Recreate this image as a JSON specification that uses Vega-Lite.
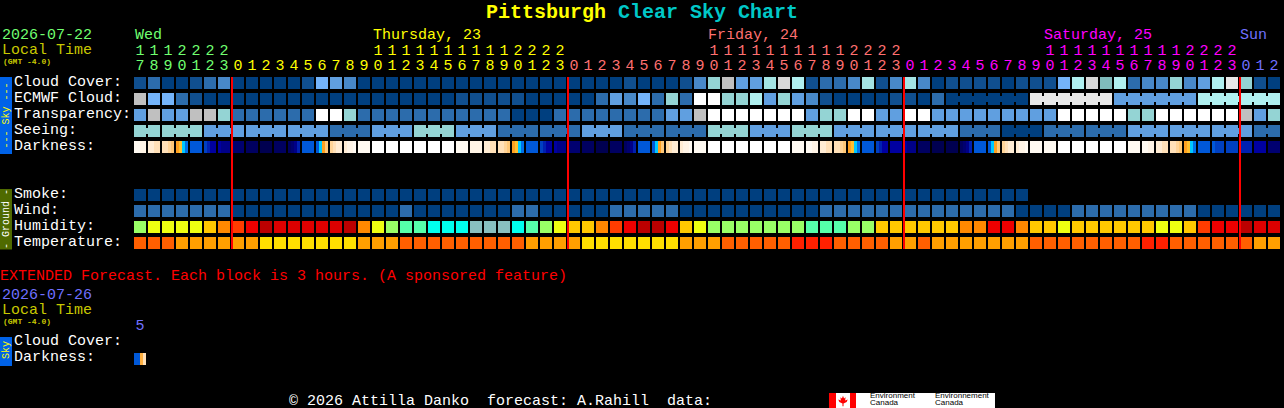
{"$schema":"https://vega.github.io/schema/vega-lite/v6.json","width":1284,"height":408,"padding":0,"autosize":{"type":"fit","contains":"padding"},"background":"#000000","view":{"stroke":null},
"datasets":{
"sky":[
{"r":0,"c":0,"v":1},{"r":0,"c":1,"v":2},{"r":0,"c":2,"v":0},{"r":0,"c":3,"v":0},{"r":0,"c":4,"v":1},{"r":0,"c":5,"v":2},{"r":0,"c":6,"v":3},{"r":0,"c":7,"v":0},{"r":0,"c":8,"v":0},{"r":0,"c":9,"v":0},{"r":0,"c":10,"v":0},{"r":0,"c":11,"v":0},{"r":0,"c":12,"v":1},{"r":0,"c":13,"v":5},{"r":0,"c":14,"v":4},{"r":0,"c":15,"v":3},{"r":0,"c":16,"v":0},{"r":0,"c":17,"v":0},{"r":0,"c":18,"v":0},{"r":0,"c":19,"v":0},{"r":0,"c":20,"v":0},{"r":0,"c":21,"v":0},{"r":0,"c":22,"v":0},{"r":0,"c":23,"v":0},{"r":0,"c":24,"v":0},{"r":0,"c":25,"v":0},{"r":0,"c":26,"v":0},{"r":0,"c":27,"v":0},{"r":0,"c":28,"v":0},{"r":0,"c":29,"v":0},{"r":0,"c":30,"v":0},{"r":0,"c":31,"v":0},{"r":0,"c":32,"v":0},{"r":0,"c":33,"v":0},{"r":0,"c":34,"v":0},{"r":0,"c":35,"v":1},{"r":0,"c":36,"v":0},{"r":0,"c":37,"v":0},{"r":0,"c":38,"v":0},{"r":0,"c":39,"v":1},{"r":0,"c":40,"v":3},{"r":0,"c":41,"v":6},{"r":0,"c":42,"v":11},{"r":0,"c":43,"v":4},{"r":0,"c":44,"v":4},{"r":0,"c":45,"v":7},{"r":0,"c":46,"v":9},{"r":0,"c":47,"v":8},{"r":0,"c":48,"v":1},{"r":0,"c":49,"v":2},{"r":0,"c":50,"v":2},{"r":0,"c":51,"v":3},{"r":0,"c":52,"v":7},{"r":0,"c":53,"v":1},{"r":0,"c":54,"v":3},{"r":0,"c":55,"v":7},{"r":0,"c":56,"v":3},{"r":0,"c":57,"v":0},{"r":0,"c":58,"v":1},{"r":0,"c":59,"v":1},{"r":0,"c":60,"v":1},{"r":0,"c":61,"v":1},{"r":0,"c":62,"v":0},{"r":0,"c":63,"v":1},{"r":0,"c":64,"v":1},{"r":0,"c":65,"v":1},{"r":0,"c":66,"v":5},{"r":0,"c":67,"v":8},{"r":0,"c":68,"v":9},{"r":0,"c":69,"v":13},{"r":0,"c":70,"v":8},{"r":0,"c":71,"v":2},{"r":0,"c":72,"v":3},{"r":0,"c":73,"v":3},{"r":0,"c":74,"v":6},{"r":0,"c":75,"v":3},{"r":0,"c":76,"v":4},{"r":0,"c":77,"v":8},{"r":0,"c":78,"v":10},{"r":0,"c":79,"v":6},{"r":0,"c":80,"v":1},{"r":0,"c":81,"v":0},
{"r":1,"c":0,"v":11},{"r":1,"c":1,"v":5},{"r":1,"c":2,"v":5},{"r":1,"c":3,"v":2},{"r":1,"c":4,"v":1},{"r":1,"c":5,"v":0},{"r":1,"c":6,"v":0},{"r":1,"c":7,"v":0},{"r":1,"c":8,"v":0},{"r":1,"c":9,"v":0},{"r":1,"c":10,"v":0},{"r":1,"c":11,"v":0},{"r":1,"c":12,"v":0},{"r":1,"c":13,"v":0},{"r":1,"c":14,"v":0},{"r":1,"c":15,"v":0},{"r":1,"c":16,"v":0},{"r":1,"c":17,"v":0},{"r":1,"c":18,"v":0},{"r":1,"c":19,"v":0},{"r":1,"c":20,"v":0},{"r":1,"c":21,"v":0},{"r":1,"c":22,"v":0},{"r":1,"c":23,"v":1},{"r":1,"c":24,"v":1},{"r":1,"c":25,"v":1},{"r":1,"c":26,"v":1},{"r":1,"c":27,"v":1},{"r":1,"c":28,"v":0},{"r":1,"c":29,"v":0},{"r":1,"c":30,"v":0},{"r":1,"c":31,"v":0},{"r":1,"c":32,"v":0},{"r":1,"c":33,"v":2},{"r":1,"c":34,"v":4},{"r":1,"c":35,"v":3},{"r":1,"c":36,"v":5},{"r":1,"c":37,"v":2},{"r":1,"c":38,"v":6},{"r":1,"c":39,"v":2},{"r":1,"c":40,"v":12},{"r":1,"c":41,"v":12},{"r":1,"c":42,"v":6},{"r":1,"c":43,"v":6},{"r":1,"c":44,"v":8},{"r":1,"c":45,"v":4},{"r":1,"c":46,"v":6},{"r":1,"c":47,"v":4},{"r":1,"c":48,"v":3},{"r":1,"c":49,"v":1},{"r":1,"c":50,"v":0},{"r":1,"c":51,"v":0},{"r":1,"c":52,"v":0},{"r":1,"c":53,"v":0},{"r":1,"c":54,"v":1},{"r":1,"c":55,"v":1},{"r":1,"c":56,"v":0},{"r":1,"c":57,"v":2},{"r":1,"c":58,"v":0},{"r":1,"c":59,"v":0},{"r":1,"c":60,"v":0},{"r":1,"c":61,"v":0},{"r":1,"c":62,"v":0},{"r":1,"c":63,"v":0},{"r":1,"c":64,"v":10},{"r":1,"c":65,"v":10},{"r":1,"c":66,"v":10},{"r":1,"c":67,"v":10},{"r":1,"c":68,"v":10},{"r":1,"c":69,"v":10},{"r":1,"c":70,"v":4},{"r":1,"c":71,"v":4},{"r":1,"c":72,"v":4},{"r":1,"c":73,"v":4},{"r":1,"c":74,"v":4},{"r":1,"c":75,"v":4},{"r":1,"c":76,"v":8},{"r":1,"c":77,"v":8},{"r":1,"c":78,"v":8},{"r":1,"c":79,"v":8},{"r":1,"c":80,"v":8},{"r":1,"c":81,"v":8},
{"r":2,"c":0,"v":4},{"r":2,"c":1,"v":11},{"r":2,"c":2,"v":4},{"r":2,"c":3,"v":4},{"r":2,"c":4,"v":11},{"r":2,"c":5,"v":11},{"r":2,"c":6,"v":6},{"r":2,"c":7,"v":2},{"r":2,"c":8,"v":2},{"r":2,"c":9,"v":2},{"r":2,"c":10,"v":2},{"r":2,"c":11,"v":2},{"r":2,"c":12,"v":2},{"r":2,"c":13,"v":12},{"r":2,"c":14,"v":12},{"r":2,"c":15,"v":6},{"r":2,"c":16,"v":2},{"r":2,"c":17,"v":2},{"r":2,"c":18,"v":2},{"r":2,"c":19,"v":2},{"r":2,"c":20,"v":2},{"r":2,"c":21,"v":2},{"r":2,"c":22,"v":2},{"r":2,"c":23,"v":2},{"r":2,"c":24,"v":2},{"r":2,"c":25,"v":2},{"r":2,"c":26,"v":2},{"r":2,"c":27,"v":0},{"r":2,"c":28,"v":0},{"r":2,"c":29,"v":0},{"r":2,"c":30,"v":2},{"r":2,"c":31,"v":2},{"r":2,"c":32,"v":2},{"r":2,"c":33,"v":2},{"r":2,"c":34,"v":2},{"r":2,"c":35,"v":2},{"r":2,"c":36,"v":2},{"r":2,"c":37,"v":2},{"r":2,"c":38,"v":4},{"r":2,"c":39,"v":4},{"r":2,"c":40,"v":11},{"r":2,"c":41,"v":12},{"r":2,"c":42,"v":12},{"r":2,"c":43,"v":12},{"r":2,"c":44,"v":12},{"r":2,"c":45,"v":12},{"r":2,"c":46,"v":12},{"r":2,"c":47,"v":12},{"r":2,"c":48,"v":4},{"r":2,"c":49,"v":6},{"r":2,"c":50,"v":6},{"r":2,"c":51,"v":12},{"r":2,"c":52,"v":12},{"r":2,"c":53,"v":4},{"r":2,"c":54,"v":4},{"r":2,"c":55,"v":12},{"r":2,"c":56,"v":12},{"r":2,"c":57,"v":4},{"r":2,"c":58,"v":4},{"r":2,"c":59,"v":4},{"r":2,"c":60,"v":4},{"r":2,"c":61,"v":4},{"r":2,"c":62,"v":4},{"r":2,"c":63,"v":4},{"r":2,"c":64,"v":4},{"r":2,"c":65,"v":4},{"r":2,"c":66,"v":12},{"r":2,"c":67,"v":12},{"r":2,"c":68,"v":12},{"r":2,"c":69,"v":12},{"r":2,"c":70,"v":12},{"r":2,"c":71,"v":6},{"r":2,"c":72,"v":6},{"r":2,"c":73,"v":12},{"r":2,"c":74,"v":12},{"r":2,"c":75,"v":12},{"r":2,"c":76,"v":12},{"r":2,"c":77,"v":12},{"r":2,"c":78,"v":12},{"r":2,"c":79,"v":11},{"r":2,"c":80,"v":4},{"r":2,"c":81,"v":6},
{"r":3,"c":0,"v":6},{"r":3,"c":1,"v":6},{"r":3,"c":2,"v":6},{"r":3,"c":3,"v":6},{"r":3,"c":4,"v":6},{"r":3,"c":5,"v":4},{"r":3,"c":6,"v":4},{"r":3,"c":7,"v":4},{"r":3,"c":8,"v":4},{"r":3,"c":9,"v":4},{"r":3,"c":10,"v":4},{"r":3,"c":11,"v":4},{"r":3,"c":12,"v":4},{"r":3,"c":13,"v":4},{"r":3,"c":14,"v":2},{"r":3,"c":15,"v":2},{"r":3,"c":16,"v":2},{"r":3,"c":17,"v":4},{"r":3,"c":18,"v":4},{"r":3,"c":19,"v":4},{"r":3,"c":20,"v":6},{"r":3,"c":21,"v":6},{"r":3,"c":22,"v":6},{"r":3,"c":23,"v":4},{"r":3,"c":24,"v":4},{"r":3,"c":25,"v":4},{"r":3,"c":26,"v":2},{"r":3,"c":27,"v":2},{"r":3,"c":28,"v":2},{"r":3,"c":29,"v":2},{"r":3,"c":30,"v":2},{"r":3,"c":31,"v":2},{"r":3,"c":32,"v":4},{"r":3,"c":33,"v":4},{"r":3,"c":34,"v":4},{"r":3,"c":35,"v":2},{"r":3,"c":36,"v":2},{"r":3,"c":37,"v":2},{"r":3,"c":38,"v":2},{"r":3,"c":39,"v":2},{"r":3,"c":40,"v":2},{"r":3,"c":41,"v":6},{"r":3,"c":42,"v":6},{"r":3,"c":43,"v":6},{"r":3,"c":44,"v":4},{"r":3,"c":45,"v":4},{"r":3,"c":46,"v":4},{"r":3,"c":47,"v":6},{"r":3,"c":48,"v":6},{"r":3,"c":49,"v":6},{"r":3,"c":50,"v":4},{"r":3,"c":51,"v":4},{"r":3,"c":52,"v":4},{"r":3,"c":53,"v":4},{"r":3,"c":54,"v":4},{"r":3,"c":55,"v":4},{"r":3,"c":56,"v":4},{"r":3,"c":57,"v":4},{"r":3,"c":58,"v":4},{"r":3,"c":59,"v":2},{"r":3,"c":60,"v":2},{"r":3,"c":61,"v":2},{"r":3,"c":62,"v":0},{"r":3,"c":63,"v":0},{"r":3,"c":64,"v":0},{"r":3,"c":65,"v":2},{"r":3,"c":66,"v":2},{"r":3,"c":67,"v":2},{"r":3,"c":68,"v":2},{"r":3,"c":69,"v":2},{"r":3,"c":70,"v":2},{"r":3,"c":71,"v":4},{"r":3,"c":72,"v":4},{"r":3,"c":73,"v":4},{"r":3,"c":74,"v":4},{"r":3,"c":75,"v":4},{"r":3,"c":76,"v":4},{"r":3,"c":77,"v":4},{"r":3,"c":78,"v":4},{"r":3,"c":79,"v":4},{"r":3,"c":80,"v":2},{"r":3,"c":81,"v":2},
{"r":7,"c":0,"v":0},{"r":7,"c":1,"v":0},{"r":7,"c":2,"v":0},{"r":7,"c":3,"v":0},{"r":7,"c":4,"v":0},{"r":7,"c":5,"v":0},{"r":7,"c":6,"v":0},{"r":7,"c":7,"v":0},{"r":7,"c":8,"v":0},{"r":7,"c":9,"v":0},{"r":7,"c":10,"v":0},{"r":7,"c":11,"v":0},{"r":7,"c":12,"v":0},{"r":7,"c":13,"v":0},{"r":7,"c":14,"v":0},{"r":7,"c":15,"v":0},{"r":7,"c":16,"v":0},{"r":7,"c":17,"v":0},{"r":7,"c":18,"v":0},{"r":7,"c":19,"v":0},{"r":7,"c":20,"v":0},{"r":7,"c":21,"v":0},{"r":7,"c":22,"v":0},{"r":7,"c":23,"v":0},{"r":7,"c":24,"v":0},{"r":7,"c":25,"v":0},{"r":7,"c":26,"v":0},{"r":7,"c":27,"v":0},{"r":7,"c":28,"v":0},{"r":7,"c":29,"v":0},{"r":7,"c":30,"v":0},{"r":7,"c":31,"v":0},{"r":7,"c":32,"v":0},{"r":7,"c":33,"v":0},{"r":7,"c":34,"v":0},{"r":7,"c":35,"v":0},{"r":7,"c":36,"v":0},{"r":7,"c":37,"v":0},{"r":7,"c":38,"v":0},{"r":7,"c":39,"v":0},{"r":7,"c":40,"v":0},{"r":7,"c":41,"v":0},{"r":7,"c":42,"v":0},{"r":7,"c":43,"v":0},{"r":7,"c":44,"v":0},{"r":7,"c":45,"v":0},{"r":7,"c":46,"v":0},{"r":7,"c":47,"v":0},{"r":7,"c":48,"v":0},{"r":7,"c":49,"v":0},{"r":7,"c":50,"v":0},{"r":7,"c":51,"v":0},{"r":7,"c":52,"v":0},{"r":7,"c":53,"v":0},{"r":7,"c":54,"v":0},{"r":7,"c":55,"v":0},{"r":7,"c":56,"v":0},{"r":7,"c":57,"v":0},{"r":7,"c":58,"v":0},{"r":7,"c":59,"v":0},{"r":7,"c":60,"v":0},{"r":7,"c":61,"v":0},{"r":7,"c":62,"v":0},{"r":7,"c":63,"v":0},
{"r":8,"c":0,"v":2},{"r":8,"c":1,"v":2},{"r":8,"c":2,"v":2},{"r":8,"c":3,"v":2},{"r":8,"c":4,"v":2},{"r":8,"c":5,"v":2},{"r":8,"c":6,"v":2},{"r":8,"c":7,"v":0},{"r":8,"c":8,"v":0},{"r":8,"c":9,"v":0},{"r":8,"c":10,"v":0},{"r":8,"c":11,"v":0},{"r":8,"c":12,"v":0},{"r":8,"c":13,"v":0},{"r":8,"c":14,"v":0},{"r":8,"c":15,"v":0},{"r":8,"c":16,"v":0},{"r":8,"c":17,"v":0},{"r":8,"c":18,"v":0},{"r":8,"c":19,"v":2},{"r":8,"c":20,"v":0},{"r":8,"c":21,"v":0},{"r":8,"c":22,"v":0},{"r":8,"c":23,"v":0},{"r":8,"c":24,"v":0},{"r":8,"c":25,"v":0},{"r":8,"c":26,"v":0},{"r":8,"c":27,"v":2},{"r":8,"c":28,"v":2},{"r":8,"c":29,"v":0},{"r":8,"c":30,"v":0},{"r":8,"c":31,"v":0},{"r":8,"c":32,"v":0},{"r":8,"c":33,"v":0},{"r":8,"c":34,"v":2},{"r":8,"c":35,"v":2},{"r":8,"c":36,"v":2},{"r":8,"c":37,"v":2},{"r":8,"c":38,"v":2},{"r":8,"c":39,"v":0},{"r":8,"c":40,"v":0},{"r":8,"c":41,"v":0},{"r":8,"c":42,"v":0},{"r":8,"c":43,"v":0},{"r":8,"c":44,"v":0},{"r":8,"c":45,"v":0},{"r":8,"c":46,"v":0},{"r":8,"c":47,"v":0},{"r":8,"c":48,"v":0},{"r":8,"c":49,"v":2},{"r":8,"c":50,"v":2},{"r":8,"c":51,"v":2},{"r":8,"c":52,"v":2},{"r":8,"c":53,"v":2},{"r":8,"c":54,"v":2},{"r":8,"c":55,"v":2},{"r":8,"c":56,"v":2},{"r":8,"c":57,"v":2},{"r":8,"c":58,"v":2},{"r":8,"c":59,"v":2},{"r":8,"c":60,"v":2},{"r":8,"c":61,"v":2},{"r":8,"c":62,"v":2},{"r":8,"c":63,"v":0},{"r":8,"c":64,"v":0},{"r":8,"c":65,"v":0},{"r":8,"c":66,"v":0},{"r":8,"c":67,"v":2},{"r":8,"c":68,"v":2},{"r":8,"c":69,"v":2},{"r":8,"c":70,"v":2},{"r":8,"c":71,"v":2},{"r":8,"c":72,"v":2},{"r":8,"c":73,"v":2},{"r":8,"c":74,"v":2},{"r":8,"c":75,"v":2},{"r":8,"c":76,"v":0},{"r":8,"c":77,"v":0},{"r":8,"c":78,"v":0},{"r":8,"c":79,"v":0},{"r":8,"c":80,"v":0},{"r":8,"c":81,"v":0}
],
"joins":[
{"r":1,"a":58,"b":63,"v":0},{"r":1,"a":64,"b":69,"v":10},{"r":1,"a":70,"b":75,"v":4},{"r":1,"a":76,"b":81,"v":8},
{"r":3,"a":0,"b":1,"v":6},{"r":3,"a":2,"b":4,"v":6},{"r":3,"a":5,"b":7,"v":4},{"r":3,"a":8,"b":10,"v":4},{"r":3,"a":11,"b":13,"v":4},{"r":3,"a":14,"b":16,"v":2},{"r":3,"a":17,"b":19,"v":4},{"r":3,"a":20,"b":22,"v":6},{"r":3,"a":23,"b":25,"v":4},{"r":3,"a":26,"b":28,"v":2},{"r":3,"a":29,"b":31,"v":2},{"r":3,"a":32,"b":34,"v":4},{"r":3,"a":35,"b":37,"v":2},{"r":3,"a":38,"b":40,"v":2},{"r":3,"a":41,"b":43,"v":6},{"r":3,"a":44,"b":46,"v":4},{"r":3,"a":47,"b":49,"v":6},{"r":3,"a":50,"b":52,"v":4},{"r":3,"a":53,"b":55,"v":4},{"r":3,"a":56,"b":58,"v":4},{"r":3,"a":59,"b":61,"v":2},{"r":3,"a":62,"b":64,"v":0},{"r":3,"a":65,"b":67,"v":2},{"r":3,"a":68,"b":70,"v":2},{"r":3,"a":71,"b":73,"v":4},{"r":3,"a":74,"b":76,"v":4},{"r":3,"a":77,"b":79,"v":4},{"r":3,"a":80,"b":81,"v":2}
],
"ground":[
{"r":9,"c":0,"v":"A"},{"r":9,"c":1,"v":"B"},{"r":9,"c":2,"v":"B"},{"r":9,"c":3,"v":"B"},{"r":9,"c":4,"v":"B"},{"r":9,"c":5,"v":"C"},{"r":9,"c":6,"v":"D"},{"r":9,"c":7,"v":"E"},{"r":9,"c":8,"v":"F"},{"r":9,"c":9,"v":"H"},{"r":9,"c":10,"v":"G"},{"r":9,"c":11,"v":"G"},{"r":9,"c":12,"v":"G"},{"r":9,"c":13,"v":"G"},{"r":9,"c":14,"v":"G"},{"r":9,"c":15,"v":"H"},{"r":9,"c":16,"v":"D"},{"r":9,"c":17,"v":"B"},{"r":9,"c":18,"v":"A"},{"r":9,"c":19,"v":"I"},{"r":9,"c":20,"v":"I"},{"r":9,"c":21,"v":"J"},{"r":9,"c":22,"v":"J"},{"r":9,"c":23,"v":"J"},{"r":9,"c":24,"v":"K"},{"r":9,"c":25,"v":"K"},{"r":9,"c":26,"v":"K"},{"r":9,"c":27,"v":"J"},{"r":9,"c":28,"v":"I"},{"r":9,"c":29,"v":"A"},{"r":9,"c":30,"v":"B"},{"r":9,"c":31,"v":"C"},{"r":9,"c":32,"v":"C"},{"r":9,"c":33,"v":"D"},{"r":9,"c":34,"v":"E"},{"r":9,"c":35,"v":"F"},{"r":9,"c":36,"v":"H"},{"r":9,"c":37,"v":"H"},{"r":9,"c":38,"v":"F"},{"r":9,"c":39,"v":"C"},{"r":9,"c":40,"v":"B"},{"r":9,"c":41,"v":"A"},{"r":9,"c":42,"v":"A"},{"r":9,"c":43,"v":"A"},{"r":9,"c":44,"v":"A"},{"r":9,"c":45,"v":"A"},{"r":9,"c":46,"v":"A"},{"r":9,"c":47,"v":"A"},{"r":9,"c":48,"v":"I"},{"r":9,"c":49,"v":"I"},{"r":9,"c":50,"v":"I"},{"r":9,"c":51,"v":"A"},{"r":9,"c":52,"v":"A"},{"r":9,"c":53,"v":"C"},{"r":9,"c":54,"v":"C"},{"r":9,"c":55,"v":"C"},{"r":9,"c":56,"v":"C"},{"r":9,"c":57,"v":"C"},{"r":9,"c":58,"v":"C"},{"r":9,"c":59,"v":"D"},{"r":9,"c":60,"v":"D"},{"r":9,"c":61,"v":"F"},{"r":9,"c":62,"v":"F"},{"r":9,"c":63,"v":"D"},{"r":9,"c":64,"v":"C"},{"r":9,"c":65,"v":"C"},{"r":9,"c":66,"v":"B"},{"r":9,"c":67,"v":"C"},{"r":9,"c":68,"v":"C"},{"r":9,"c":69,"v":"C"},{"r":9,"c":70,"v":"C"},{"r":9,"c":71,"v":"C"},{"r":9,"c":72,"v":"C"},{"r":9,"c":73,"v":"B"},{"r":9,"c":74,"v":"B"},{"r":9,"c":75,"v":"C"},{"r":9,"c":76,"v":"E"},{"r":9,"c":77,"v":"F"},{"r":9,"c":78,"v":"F"},{"r":9,"c":79,"v":"H"},{"r":9,"c":80,"v":"G"},{"r":9,"c":81,"v":"G"},
{"r":10,"c":0,"v":"T1"},{"r":10,"c":1,"v":"T1"},{"r":10,"c":2,"v":"T1"},{"r":10,"c":3,"v":"T2"},{"r":10,"c":4,"v":"T2"},{"r":10,"c":5,"v":"T2"},{"r":10,"c":6,"v":"T2"},{"r":10,"c":7,"v":"T2"},{"r":10,"c":8,"v":"T2"},{"r":10,"c":9,"v":"T3"},{"r":10,"c":10,"v":"T3"},{"r":10,"c":11,"v":"T3"},{"r":10,"c":12,"v":"T3"},{"r":10,"c":13,"v":"T3"},{"r":10,"c":14,"v":"T3"},{"r":10,"c":15,"v":"T3"},{"r":10,"c":16,"v":"T2"},{"r":10,"c":17,"v":"T2"},{"r":10,"c":18,"v":"T2"},{"r":10,"c":19,"v":"T1"},{"r":10,"c":20,"v":"T1"},{"r":10,"c":21,"v":"T1"},{"r":10,"c":22,"v":"T1"},{"r":10,"c":23,"v":"T1"},{"r":10,"c":24,"v":"T1"},{"r":10,"c":25,"v":"T1"},{"r":10,"c":26,"v":"T1"},{"r":10,"c":27,"v":"T1"},{"r":10,"c":28,"v":"T2"},{"r":10,"c":29,"v":"T2"},{"r":10,"c":30,"v":"T2"},{"r":10,"c":31,"v":"T2"},{"r":10,"c":32,"v":"T3"},{"r":10,"c":33,"v":"T3"},{"r":10,"c":34,"v":"T3"},{"r":10,"c":35,"v":"T3"},{"r":10,"c":36,"v":"T3"},{"r":10,"c":37,"v":"T3"},{"r":10,"c":38,"v":"T3"},{"r":10,"c":39,"v":"T2"},{"r":10,"c":40,"v":"T2"},{"r":10,"c":41,"v":"T2"},{"r":10,"c":42,"v":"T1"},{"r":10,"c":43,"v":"T1"},{"r":10,"c":44,"v":"T1"},{"r":10,"c":45,"v":"T1"},{"r":10,"c":46,"v":"T1"},{"r":10,"c":47,"v":"T4"},{"r":10,"c":48,"v":"T4"},{"r":10,"c":49,"v":"T4"},{"r":10,"c":50,"v":"T1"},{"r":10,"c":51,"v":"T1"},{"r":10,"c":52,"v":"T1"},{"r":10,"c":53,"v":"T1"},{"r":10,"c":54,"v":"T2"},{"r":10,"c":55,"v":"T2"},{"r":10,"c":56,"v":"T1"},{"r":10,"c":57,"v":"T2"},{"r":10,"c":58,"v":"T2"},{"r":10,"c":59,"v":"T2"},{"r":10,"c":60,"v":"T2"},{"r":10,"c":61,"v":"T2"},{"r":10,"c":62,"v":"T2"},{"r":10,"c":63,"v":"T2"},{"r":10,"c":64,"v":"T1"},{"r":10,"c":65,"v":"T1"},{"r":10,"c":66,"v":"T1"},{"r":10,"c":67,"v":"T1"},{"r":10,"c":68,"v":"T1"},{"r":10,"c":69,"v":"T1"},{"r":10,"c":70,"v":"T1"},{"r":10,"c":71,"v":"T1"},{"r":10,"c":72,"v":"T4"},{"r":10,"c":73,"v":"T4"},{"r":10,"c":74,"v":"T1"},{"r":10,"c":75,"v":"T1"},{"r":10,"c":76,"v":"T1"},{"r":10,"c":77,"v":"T1"},{"r":10,"c":78,"v":"T1"},{"r":10,"c":79,"v":"T1"},{"r":10,"c":80,"v":"T2"},{"r":10,"c":81,"v":"T2"}
],
"darkFlat":[
{"c":4,"r":4,"v":"C2"},{"c":7,"r":4,"v":"C7"},{"c":8,"r":4,"v":"C8"},{"c":9,"r":4,"v":"C9"},{"c":10,"r":4,"v":"C8"},{"c":12,"r":4,"v":"C2"},{"c":16,"r":4,"v":"W1"},{"c":17,"r":4,"v":"W0"},{"c":18,"r":4,"v":"W0"},{"c":19,"r":4,"v":"W0"},{"c":20,"r":4,"v":"W0"},{"c":21,"r":4,"v":"W0"},{"c":22,"r":4,"v":"W0"},{"c":23,"r":4,"v":"W1"},{"c":24,"r":4,"v":"W2"},{"c":28,"r":4,"v":"C2"},{"c":31,"r":4,"v":"C7"},{"c":32,"r":4,"v":"C8"},{"c":33,"r":4,"v":"C9"},{"c":34,"r":4,"v":"C8"},{"c":36,"r":4,"v":"C2"},{"c":40,"r":4,"v":"W1"},{"c":41,"r":4,"v":"W0"},{"c":42,"r":4,"v":"W0"},{"c":43,"r":4,"v":"W0"},{"c":44,"r":4,"v":"W0"},{"c":45,"r":4,"v":"W0"},{"c":46,"r":4,"v":"W0"},{"c":47,"r":4,"v":"W1"},{"c":52,"r":4,"v":"C2"},{"c":54,"r":4,"v":"C5"},{"c":56,"r":4,"v":"C8"},{"c":57,"r":4,"v":"C9"},{"c":58,"r":4,"v":"C9"},{"c":60,"r":4,"v":"C2"},{"c":64,"r":4,"v":"W1"},{"c":65,"r":4,"v":"W1"},{"c":66,"r":4,"v":"W0"},{"c":67,"r":4,"v":"W0"},{"c":68,"r":4,"v":"W0"},{"c":69,"r":4,"v":"W0"},{"c":70,"r":4,"v":"W0"},{"c":71,"r":4,"v":"W1"},{"c":76,"r":4,"v":"C2"},{"c":78,"r":4,"v":"C3"},{"c":79,"r":4,"v":"C4"},{"c":80,"r":4,"v":"C5"},{"c":81,"r":4,"v":"C7"}
],
"darkStripes":[
{"t":-0.3214,"r":4,"v":"W1"},{"t":-0.1071,"r":4,"v":"W1"},{"t":0.1071,"r":4,"v":"W2"},{"t":0.3214,"r":4,"v":"W2"},
{"t":0.6786,"r":4,"v":"W3"},{"t":0.8929,"r":4,"v":"W3"},{"t":1.1071,"r":4,"v":"W4"},{"t":1.3214,"r":4,"v":"W4"},
{"t":1.6786,"r":4,"v":"W4"},{"t":1.8929,"r":4,"v":"W4"},{"t":2.1071,"r":4,"v":"W5"},{"t":2.3214,"r":4,"v":"W6"},
{"t":2.6786,"r":4,"v":"W8"},{"t":2.8929,"r":4,"v":"W9"},{"t":3.1071,"r":4,"v":"C0"},{"t":3.3214,"r":4,"v":"C1"},
{"t":4.6786,"r":4,"v":"C3"},{"t":4.8929,"r":4,"v":"C4"},{"t":5.1071,"r":4,"v":"C5"},{"t":5.3214,"r":4,"v":"C5"},
{"t":5.6786,"r":4,"v":"C5"},{"t":5.8929,"r":4,"v":"C6"},{"t":6.1071,"r":4,"v":"C6"},{"t":6.3214,"r":4,"v":"C6"},
{"t":10.6786,"r":4,"v":"C8"},{"t":10.8929,"r":4,"v":"C7"},{"t":11.1071,"r":4,"v":"C6"},{"t":11.3214,"r":4,"v":"C4"},
{"t":12.6786,"r":4,"v":"C2"},{"t":12.8929,"r":4,"v":"C0"},{"t":13.1071,"r":4,"v":"W8"},{"t":13.3214,"r":4,"v":"W6"},
{"t":13.6786,"r":4,"v":"W5"},{"t":13.8929,"r":4,"v":"W4"},{"t":14.1071,"r":4,"v":"W3"},{"t":14.3214,"r":4,"v":"W3"},
{"t":14.6786,"r":4,"v":"W3"},{"t":14.8929,"r":4,"v":"W2"},{"t":15.1071,"r":4,"v":"W2"},{"t":15.3214,"r":4,"v":"W1"},
{"t":24.6786,"r":4,"v":"W3"},{"t":24.8929,"r":4,"v":"W3"},{"t":25.1071,"r":4,"v":"W4"},{"t":25.3214,"r":4,"v":"W4"},
{"t":25.6786,"r":4,"v":"W4"},{"t":25.8929,"r":4,"v":"W4"},{"t":26.1071,"r":4,"v":"W5"},{"t":26.3214,"r":4,"v":"W6"},
{"t":26.6786,"r":4,"v":"W8"},{"t":26.8929,"r":4,"v":"W9"},{"t":27.1071,"r":4,"v":"C0"},{"t":27.3214,"r":4,"v":"C1"},
{"t":28.6786,"r":4,"v":"C3"},{"t":28.8929,"r":4,"v":"C4"},{"t":29.1071,"r":4,"v":"C5"},{"t":29.3214,"r":4,"v":"C5"},
{"t":29.6786,"r":4,"v":"C5"},{"t":29.8929,"r":4,"v":"C6"},{"t":30.1071,"r":4,"v":"C6"},{"t":30.3214,"r":4,"v":"C6"},
{"t":34.6786,"r":4,"v":"C8"},{"t":34.8929,"r":4,"v":"C7"},{"t":35.1071,"r":4,"v":"C6"},{"t":35.3214,"r":4,"v":"C4"},
{"t":36.6786,"r":4,"v":"C2"},{"t":36.8929,"r":4,"v":"C0"},{"t":37.1071,"r":4,"v":"W8"},{"t":37.3214,"r":4,"v":"W6"},
{"t":37.6786,"r":4,"v":"W5"},{"t":37.8929,"r":4,"v":"W4"},{"t":38.1071,"r":4,"v":"W3"},{"t":38.3214,"r":4,"v":"W3"},
{"t":38.6786,"r":4,"v":"W3"},{"t":38.8929,"r":4,"v":"W2"},{"t":39.1071,"r":4,"v":"W2"},{"t":39.3214,"r":4,"v":"W1"},
{"t":47.6786,"r":4,"v":"W1"},{"t":47.8929,"r":4,"v":"W1"},{"t":48.1071,"r":4,"v":"W2"},{"t":48.3214,"r":4,"v":"W2"},
{"t":48.6786,"r":4,"v":"W3"},{"t":48.8929,"r":4,"v":"W3"},{"t":49.1071,"r":4,"v":"W4"},{"t":49.3214,"r":4,"v":"W4"},
{"t":49.6786,"r":4,"v":"W4"},{"t":49.8929,"r":4,"v":"W4"},{"t":50.1071,"r":4,"v":"W5"},{"t":50.3214,"r":4,"v":"W6"},
{"t":50.6786,"r":4,"v":"W8"},{"t":50.8929,"r":4,"v":"W9"},{"t":51.1071,"r":4,"v":"C0"},{"t":51.3214,"r":4,"v":"C1"},
{"t":52.6786,"r":4,"v":"C3"},{"t":52.8929,"r":4,"v":"C4"},{"t":53.1071,"r":4,"v":"C5"},{"t":53.3214,"r":4,"v":"C5"},
{"t":54.6786,"r":4,"v":"C5"},{"t":54.8929,"r":4,"v":"C6"},{"t":55.1071,"r":4,"v":"C6"},{"t":55.3214,"r":4,"v":"C6"},
{"t":58.6786,"r":4,"v":"C8"},{"t":58.8929,"r":4,"v":"C7"},{"t":59.1071,"r":4,"v":"C6"},{"t":59.3214,"r":4,"v":"C4"},
{"t":60.6786,"r":4,"v":"C2"},{"t":60.8929,"r":4,"v":"C0"},{"t":61.1071,"r":4,"v":"W8"},{"t":61.3214,"r":4,"v":"W6"},
{"t":61.6786,"r":4,"v":"W5"},{"t":61.8929,"r":4,"v":"W4"},{"t":62.1071,"r":4,"v":"W3"},{"t":62.3214,"r":4,"v":"W3"},
{"t":62.6786,"r":4,"v":"W3"},{"t":62.8929,"r":4,"v":"W2"},{"t":63.1071,"r":4,"v":"W2"},{"t":63.3214,"r":4,"v":"W1"},
{"t":71.6786,"r":4,"v":"W1"},{"t":71.8929,"r":4,"v":"W1"},{"t":72.1071,"r":4,"v":"W2"},{"t":72.3214,"r":4,"v":"W2"},
{"t":72.6786,"r":4,"v":"W3"},{"t":72.8929,"r":4,"v":"W3"},{"t":73.1071,"r":4,"v":"W4"},{"t":73.3214,"r":4,"v":"W4"},
{"t":73.6786,"r":4,"v":"W4"},{"t":73.8929,"r":4,"v":"W4"},{"t":74.1071,"r":4,"v":"W5"},{"t":74.3214,"r":4,"v":"W6"},
{"t":74.6786,"r":4,"v":"W8"},{"t":74.8929,"r":4,"v":"W9"},{"t":75.1071,"r":4,"v":"C0"},{"t":75.3214,"r":4,"v":"C1"},
{"t":76.6786,"r":4,"v":"C2"},{"t":76.8929,"r":4,"v":"C3"},{"t":77.1071,"r":4,"v":"C3"},{"t":77.3214,"r":4,"v":"C3"},
{"t":-0.3214,"r":17.25,"v":"C2"},{"t":-0.1071,"r":17.25,"v":"C2"},{"t":0.1071,"r":17.25,"v":"W7"},{"t":0.3214,"r":17.25,"v":"W4"}
],
"digits":[
{"c":0,"r":-2.0625,"d":"1","g":"wed"},{"c":1,"r":-2.0625,"d":"1","g":"wed"},{"c":2,"r":-2.0625,"d":"1","g":"wed"},{"c":3,"r":-2.0625,"d":"2","g":"wed"},{"c":4,"r":-2.0625,"d":"2","g":"wed"},{"c":5,"r":-2.0625,"d":"2","g":"wed"},{"c":6,"r":-2.0625,"d":"2","g":"wed"},
{"c":17,"r":-2.0625,"d":"1","g":"thu"},{"c":18,"r":-2.0625,"d":"1","g":"thu"},{"c":19,"r":-2.0625,"d":"1","g":"thu"},{"c":20,"r":-2.0625,"d":"1","g":"thu"},{"c":21,"r":-2.0625,"d":"1","g":"thu"},{"c":22,"r":-2.0625,"d":"1","g":"thu"},{"c":23,"r":-2.0625,"d":"1","g":"thu"},{"c":24,"r":-2.0625,"d":"1","g":"thu"},{"c":25,"r":-2.0625,"d":"1","g":"thu"},{"c":26,"r":-2.0625,"d":"1","g":"thu"},{"c":27,"r":-2.0625,"d":"2","g":"thu"},{"c":28,"r":-2.0625,"d":"2","g":"thu"},{"c":29,"r":-2.0625,"d":"2","g":"thu"},{"c":30,"r":-2.0625,"d":"2","g":"thu"},
{"c":41,"r":-2.0625,"d":"1","g":"fri"},{"c":42,"r":-2.0625,"d":"1","g":"fri"},{"c":43,"r":-2.0625,"d":"1","g":"fri"},{"c":44,"r":-2.0625,"d":"1","g":"fri"},{"c":45,"r":-2.0625,"d":"1","g":"fri"},{"c":46,"r":-2.0625,"d":"1","g":"fri"},{"c":47,"r":-2.0625,"d":"1","g":"fri"},{"c":48,"r":-2.0625,"d":"1","g":"fri"},{"c":49,"r":-2.0625,"d":"1","g":"fri"},{"c":50,"r":-2.0625,"d":"1","g":"fri"},{"c":51,"r":-2.0625,"d":"2","g":"fri"},{"c":52,"r":-2.0625,"d":"2","g":"fri"},{"c":53,"r":-2.0625,"d":"2","g":"fri"},{"c":54,"r":-2.0625,"d":"2","g":"fri"},
{"c":65,"r":-2.0625,"d":"1","g":"sat"},{"c":66,"r":-2.0625,"d":"1","g":"sat"},{"c":67,"r":-2.0625,"d":"1","g":"sat"},{"c":68,"r":-2.0625,"d":"1","g":"sat"},{"c":69,"r":-2.0625,"d":"1","g":"sat"},{"c":70,"r":-2.0625,"d":"1","g":"sat"},{"c":71,"r":-2.0625,"d":"1","g":"sat"},{"c":72,"r":-2.0625,"d":"1","g":"sat"},{"c":73,"r":-2.0625,"d":"1","g":"sat"},{"c":74,"r":-2.0625,"d":"1","g":"sat"},{"c":75,"r":-2.0625,"d":"2","g":"sat"},{"c":76,"r":-2.0625,"d":"2","g":"sat"},{"c":77,"r":-2.0625,"d":"2","g":"sat"},{"c":78,"r":-2.0625,"d":"2","g":"sat"},
{"c":0,"r":-1.1,"d":"7","g":"wed"},{"c":1,"r":-1.1,"d":"8","g":"wed"},{"c":2,"r":-1.1,"d":"9","g":"wed"},{"c":3,"r":-1.1,"d":"0","g":"wed"},{"c":4,"r":-1.1,"d":"1","g":"wed"},{"c":5,"r":-1.1,"d":"2","g":"wed"},{"c":6,"r":-1.1,"d":"3","g":"wed"},
{"c":7,"r":-1.1,"d":"0","g":"thu"},{"c":8,"r":-1.1,"d":"1","g":"thu"},{"c":9,"r":-1.1,"d":"2","g":"thu"},{"c":10,"r":-1.1,"d":"3","g":"thu"},{"c":11,"r":-1.1,"d":"4","g":"thu"},{"c":12,"r":-1.1,"d":"5","g":"thu"},{"c":13,"r":-1.1,"d":"6","g":"thu"},{"c":14,"r":-1.1,"d":"7","g":"thu"},{"c":15,"r":-1.1,"d":"8","g":"thu"},{"c":16,"r":-1.1,"d":"9","g":"thu"},{"c":17,"r":-1.1,"d":"0","g":"thu"},{"c":18,"r":-1.1,"d":"1","g":"thu"},{"c":19,"r":-1.1,"d":"2","g":"thu"},{"c":20,"r":-1.1,"d":"3","g":"thu"},{"c":21,"r":-1.1,"d":"4","g":"thu"},{"c":22,"r":-1.1,"d":"5","g":"thu"},{"c":23,"r":-1.1,"d":"6","g":"thu"},{"c":24,"r":-1.1,"d":"7","g":"thu"},{"c":25,"r":-1.1,"d":"8","g":"thu"},{"c":26,"r":-1.1,"d":"9","g":"thu"},{"c":27,"r":-1.1,"d":"0","g":"thu"},{"c":28,"r":-1.1,"d":"1","g":"thu"},{"c":29,"r":-1.1,"d":"2","g":"thu"},{"c":30,"r":-1.1,"d":"3","g":"thu"},
{"c":31,"r":-1.1,"d":"0","g":"fri"},{"c":32,"r":-1.1,"d":"1","g":"fri"},{"c":33,"r":-1.1,"d":"2","g":"fri"},{"c":34,"r":-1.1,"d":"3","g":"fri"},{"c":35,"r":-1.1,"d":"4","g":"fri"},{"c":36,"r":-1.1,"d":"5","g":"fri"},{"c":37,"r":-1.1,"d":"6","g":"fri"},{"c":38,"r":-1.1,"d":"7","g":"fri"},{"c":39,"r":-1.1,"d":"8","g":"fri"},{"c":40,"r":-1.1,"d":"9","g":"fri"},{"c":41,"r":-1.1,"d":"0","g":"fri"},{"c":42,"r":-1.1,"d":"1","g":"fri"},{"c":43,"r":-1.1,"d":"2","g":"fri"},{"c":44,"r":-1.1,"d":"3","g":"fri"},{"c":45,"r":-1.1,"d":"4","g":"fri"},{"c":46,"r":-1.1,"d":"5","g":"fri"},{"c":47,"r":-1.1,"d":"6","g":"fri"},{"c":48,"r":-1.1,"d":"7","g":"fri"},{"c":49,"r":-1.1,"d":"8","g":"fri"},{"c":50,"r":-1.1,"d":"9","g":"fri"},{"c":51,"r":-1.1,"d":"0","g":"fri"},{"c":52,"r":-1.1,"d":"1","g":"fri"},{"c":53,"r":-1.1,"d":"2","g":"fri"},{"c":54,"r":-1.1,"d":"3","g":"fri"},
{"c":55,"r":-1.1,"d":"0","g":"sat"},{"c":56,"r":-1.1,"d":"1","g":"sat"},{"c":57,"r":-1.1,"d":"2","g":"sat"},{"c":58,"r":-1.1,"d":"3","g":"sat"},{"c":59,"r":-1.1,"d":"4","g":"sat"},{"c":60,"r":-1.1,"d":"5","g":"sat"},{"c":61,"r":-1.1,"d":"6","g":"sat"},{"c":62,"r":-1.1,"d":"7","g":"sat"},{"c":63,"r":-1.1,"d":"8","g":"sat"},{"c":64,"r":-1.1,"d":"9","g":"sat"},{"c":65,"r":-1.1,"d":"0","g":"sat"},{"c":66,"r":-1.1,"d":"1","g":"sat"},{"c":67,"r":-1.1,"d":"2","g":"sat"},{"c":68,"r":-1.1,"d":"3","g":"sat"},{"c":69,"r":-1.1,"d":"4","g":"sat"},{"c":70,"r":-1.1,"d":"5","g":"sat"},{"c":71,"r":-1.1,"d":"6","g":"sat"},{"c":72,"r":-1.1,"d":"7","g":"sat"},{"c":73,"r":-1.1,"d":"8","g":"sat"},{"c":74,"r":-1.1,"d":"9","g":"sat"},{"c":75,"r":-1.1,"d":"0","g":"sat"},{"c":76,"r":-1.1,"d":"1","g":"sat"},{"c":77,"r":-1.1,"d":"2","g":"sat"},{"c":78,"r":-1.1,"d":"3","g":"sat"},
{"c":79,"r":-1.1,"d":"0","g":"sun"},{"c":80,"r":-1.1,"d":"1","g":"sun"},{"c":81,"r":-1.1,"d":"2","g":"sun"},
{"c":0,"r":15.125,"d":"5","g":"sun"}
],
"labels":[
{"x":-9.857,"y":-3,"s":"2026-07-22","g":"wed"},{"x":-9.857,"y":-2.0625,"s":"Local Time","g":"olive"},
{"x":-0.357,"y":-3,"s":"Wed","g":"wed"},{"x":16.64,"y":-3,"s":"Thursday, 23","g":"thu"},{"x":40.57,"y":-3,"s":"Friday, 24","g":"fri"},{"x":64.57,"y":-3,"s":"Saturday, 25","g":"sat"},{"x":78.57,"y":-3,"s":"Sun","g":"sun"},
{"x":-9,"y":-0.08,"s":"Cloud Cover:","g":"white"},{"x":-9,"y":0.92,"s":"ECMWF Cloud:","g":"white"},{"x":-9,"y":1.92,"s":"Transparency:","g":"white"},{"x":-9,"y":2.92,"s":"Seeing:","g":"white"},{"x":-9,"y":3.92,"s":"Darkness:","g":"white"},
{"x":-9,"y":6.92,"s":"Smoke:","g":"white"},{"x":-9,"y":7.92,"s":"Wind:","g":"white"},{"x":-9,"y":8.92,"s":"Humidity:","g":"white"},{"x":-9,"y":9.92,"s":"Temperature:","g":"white"},
{"x":-10,"y":12.06,"s":"EXTENDED Forecast. Each block is 3 hours. (A sponsored feature)","g":"red"},
{"x":-9.857,"y":13.25,"s":"2026-07-26","g":"sun"},{"x":-9.857,"y":14.19,"s":"Local Time","g":"olive"},
{"x":-9,"y":16.125,"s":"Cloud Cover:","g":"white"},{"x":-9,"y":17.125,"s":"Darkness:","g":"white"},
{"x":10.64,"y":19.875,"s":"© 2026 Attilla Danko","g":"white"},{"x":24.79,"y":19.875,"s":"forecast: A.Rahill","g":"white"},{"x":37.64,"y":19.875,"s":"data:","g":"white"}
]
},
"layer":[
{"data":{"values":[
{"a":-10,"b":-9.1429,"t":-0.375,"u":4.4375,"g":"sky"},{"a":-10,"b":-9.1429,"t":6.625,"u":10.406,"g":"ground"},{"a":-10,"b":-9.1429,"t":15.875,"u":17.6875,"g":"sky"},
{"a":49.214,"b":61.071,"t":19.375,"u":20.3125,"g":"white"},{"a":49.214,"b":49.714,"t":19.375,"u":20.3125,"g":"flag"},{"a":50.714,"b":51.143,"t":19.375,"u":20.3125,"g":"flag"}]},
"mark":{"type":"rect"},
"encoding":{"x":{"field":"a","type":"quantitative","axis":null,"scale":{"domain":[-10,81.7142857],"nice":false,"zero":false}},"x2":{"field":"b"},"y":{"field":"t","type":"quantitative","axis":null,"scale":{"domain":[-5.1875,20.3125],"reverse":true,"nice":false,"zero":false}},"y2":{"field":"u"},
"color":{"field":"g","type":"nominal","legend":null,"scale":{"domain":["sky","ground","white","flag"],"range":["#0062e8","#4f6a00","#ffffff","#ff0000"]}}}},
{"data":{"name":"sky"},"mark":{"type":"tick","orient":"vertical","thickness":12,"size":12,"opacity":1},
"encoding":{"x":{"field":"c","type":"quantitative","axis":null},"y":{"field":"r","type":"quantitative","axis":null},
"color":{"field":"v","type":"ordinal","legend":null,"scale":{"domain":[0,1,2,3,4,5,6,7,8,9,10,11,12,13],"range":["#003f7f","#104f8f","#2c6cac","#4888c8","#609fe0","#74b4fa","#94d4d4","#a4e4e4","#b0f0f0","#d8d8d8","#e8e8e8","#c0c0c0","#ffffff","#80bcbc"]}}}},
{"data":{"name":"joins"},"mark":{"type":"rule","strokeWidth":6},
"encoding":{"x":{"field":"a","type":"quantitative","axis":null},"x2":{"field":"b"},"y":{"field":"r","type":"quantitative","axis":null},
"color":{"field":"v","type":"ordinal","legend":null,"scale":{"domain":[0,2,4,6,8,10],"range":["#003f7f","#2c6cac","#609fe0","#94d4d4","#b0f0f0","#e8e8e8"]}}}},
{"data":{"name":"ground"},"mark":{"type":"tick","orient":"vertical","thickness":12,"size":12,"opacity":1},
"encoding":{"x":{"field":"c","type":"quantitative","axis":null},"y":{"field":"r","type":"quantitative","axis":null},
"color":{"field":"v","type":"nominal","legend":null,"scale":{"domain":["A","B","C","D","E","F","G","H","I","J","K","T1","T2","T3","T4"],"range":["#99ff66","#eeff11","#ffc800","#ff8800","#ff3c00","#ee0000","#dd0000","#bb0000","#55ffaa","#00ffee","#88bfbf","#ff5f00","#ff9f00","#ffdf00","#ff2000"]}}}},
{"data":{"name":"darkFlat"},"mark":{"type":"tick","orient":"vertical","thickness":12,"size":12,"opacity":1},
"encoding":{"x":{"field":"c","type":"quantitative","axis":null},"y":{"field":"r","type":"quantitative","axis":null},
"color":{"field":"v","type":"nominal","legend":null,"scale":{"domain":["W0","W1","W2","W3","W4","W5","W6","W7","W8","W9","C0","C1","C2","C3","C4","C5","C6","C7","C8","C9"],"range":["#ffffff","#fffaf2","#fff4e6","#ffecd4","#ffe0b8","#ffd498","#ffc878","#ffb040","#ffa020","#ffc030","#00c8ff","#0070e8","#0058d8","#0040c0","#0020b0","#0000a0","#000088","#000070","#000060","#000050"]}}}},
{"data":{"name":"darkStripes"},"mark":{"type":"tick","orient":"vertical","thickness":3,"size":12,"opacity":1},
"encoding":{"x":{"field":"t","type":"quantitative","axis":null},"y":{"field":"r","type":"quantitative","axis":null},
"color":{"field":"v","type":"nominal","legend":null,"scale":{"domain":["W0","W1","W2","W3","W4","W5","W6","W7","W8","W9","C0","C1","C2","C3","C4","C5","C6","C7","C8","C9"],"range":["#ffffff","#fffaf2","#fff4e6","#ffecd4","#ffe0b8","#ffd498","#ffc878","#ffb040","#ffa020","#ffc030","#00c8ff","#0070e8","#0058d8","#0040c0","#0020b0","#0000a0","#000088","#000070","#000060","#000050"]}}}},
{"data":{"values":[{"c":6.5714,"t":-0.375,"u":10.375},{"c":30.5714,"t":-0.375,"u":10.375},{"c":54.5714,"t":-0.375,"u":10.375},{"c":78.5714,"t":-0.375,"u":10.375}]},"mark":{"type":"rule","color":"#ff0000","strokeWidth":2},
"encoding":{"x":{"field":"c","type":"quantitative","axis":null},"y":{"field":"t","type":"quantitative","axis":null},"y2":{"field":"u"}}},
{"data":{"values":[{"x":50.214,"y":19.875}]},"mark":{"type":"point","filled":true,"opacity":1,"color":"#ff0000","shape":"M0,-1L0.2,-0.5L0.5,-0.7L0.4,-0.1L0.9,-0.3L0.7,0.2L0.1,0.5L0.1,1L-0.1,1L-0.1,0.5L-0.7,0.2L-0.9,-0.3L-0.4,-0.1L-0.5,-0.7L-0.2,-0.5Z","size":110},
"encoding":{"x":{"field":"x","type":"quantitative","axis":null},"y":{"field":"y","type":"quantitative","axis":null}}},
{"data":{"name":"digits"},"mark":{"type":"text","font":"Liberation Mono","fontSize":15,"align":"center","baseline":"middle","dy":-0.5},
"encoding":{"x":{"field":"c","type":"quantitative","axis":null},"y":{"field":"r","type":"quantitative","axis":null},"text":{"field":"d"},
"color":{"field":"g","type":"nominal","legend":null,"scale":{"domain":["wed","thu","fri","sat","sun"],"range":["#70ff70","#ffff00","#ff7070","#ff00ff","#7070ff"]}}}},
{"data":{"name":"labels"},"mark":{"type":"text","font":"Liberation Mono","fontSize":15,"align":"left","baseline":"middle","dy":-1},
"encoding":{"x":{"field":"x","type":"quantitative","axis":null},"y":{"field":"y","type":"quantitative","axis":null},"text":{"field":"s"},
"color":{"field":"g","type":"nominal","legend":null,"scale":{"domain":["wed","thu","fri","sat","sun","olive","white","red"],"range":["#70ff70","#ffff00","#ff7070","#ff00ff","#7070ff","#c8c800","#ffffff","#ff0000"]}}}},
{"data":{"values":[{"x":24.714,"y":-4.4375,"s":"Pittsburgh","g":"a"},{"x":34.143,"y":-4.4375,"s":"Clear Sky Chart","g":"b"}]},"mark":{"type":"text","font":"Liberation Mono","fontSize":20,"fontWeight":"bold","align":"left","baseline":"middle"},
"encoding":{"x":{"field":"x","type":"quantitative","axis":null},"y":{"field":"y","type":"quantitative","axis":null},"text":{"field":"s"},
"color":{"field":"g","type":"nominal","legend":null,"scale":{"domain":["a","b"],"range":["#ffff00","#00c8c8"]}}}},
{"data":{"values":[{"x":-9.786,"y":-1.3125,"s":"(GMT -4.0)"},{"x":-9.786,"y":14.94,"s":"(GMT -4.0)"}]},"mark":{"type":"text","font":"Liberation Mono","fontSize":8,"fontWeight":"bold","align":"left","baseline":"middle","color":"#c8c800"},
"encoding":{"x":{"field":"x","type":"quantitative","axis":null},"y":{"field":"y","type":"quantitative","axis":null},"text":{"field":"s"}}},
{"data":{"values":[{"x":-9.571,"y":2.03,"s":"--- Sky ---","g":"y"},{"x":-9.571,"y":8.5,"s":"- Ground -","g":"w"},{"x":-9.571,"y":16.69,"s":"Sky","g":"y"}]},"mark":{"type":"text","font":"Liberation Mono","fontSize":10,"angle":270,"align":"center","baseline":"middle"},
"encoding":{"x":{"field":"x","type":"quantitative","axis":null},"y":{"field":"y","type":"quantitative","axis":null},"text":{"field":"s"},
"color":{"field":"g","type":"nominal","legend":null,"scale":{"domain":["y","w"],"range":["#ffff00","#ffffff"]}}}},
{"data":{"values":[{"x":52.143,"y":19.5625,"s":"Environment"},{"x":52.143,"y":20.0,"s":"Canada"},{"x":56.786,"y":19.5625,"s":"Environnement"},{"x":56.786,"y":20.0,"s":"Canada"}]},"mark":{"type":"text","font":"Liberation Sans","fontSize":8,"align":"left","baseline":"middle","color":"#000000"},
"encoding":{"x":{"field":"x","type":"quantitative","axis":null},"y":{"field":"y","type":"quantitative","axis":null},"text":{"field":"s"}}}
],
"resolve":{"scale":{"color":"independent"}},
"config":{"style":{"cell":{"stroke":null}}}}
